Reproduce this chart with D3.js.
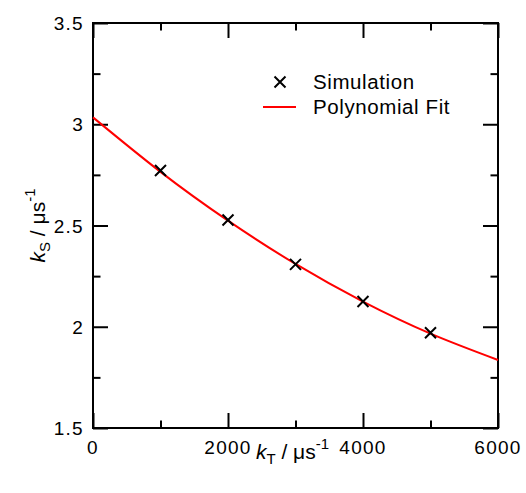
<!DOCTYPE html>
<html>
<head>
<meta charset="utf-8">
<script src="https://cdn.jsdelivr.net/npm/d3@7"></script>
<style>
  body { margin: 0; background: #fff; }
  svg text { font-family: "Liberation Sans", Arial, Helvetica, sans-serif; fill: #000; }
</style>
</head>
<body>
<div id="chart"></div>
<script>
// Simulation points (k_T in us^-1, k_S in us^-1)
const simX = [1000, 2000, 3000, 4000, 5000];
const simY = [2.772, 2.527, 2.308, 2.125, 1.970];

// Polynomial fit curve
const fitX = [0, 1000, 2000, 3000, 4000, 5000, 6000];
const fitY = [3.034, 2.765, 2.524, 2.310, 2.124, 1.966, 1.836];

const xMajor = [0, 2000, 4000, 6000];
const xMinor = [1000, 3000, 5000];
const yMajor = [1.5, 2, 2.5, 3, 3.5];
const yMinor = [1.75, 2.25, 2.75, 3.25];

const legendItems = ['Simulation', 'Polynomial Fit'];

const width = 526, height = 493;
const margin = { top: 23, right: 28, bottom: 65, left: 93 };

const svg = d3.select('#chart')
  .append('svg')
  .attr('width', width)
  .attr('height', height);

const x = d3.scaleLinear().domain([0, 6000]).range([margin.left, width - margin.right]);
const y = d3.scaleLinear().domain([1.5, 3.5]).range([height - margin.bottom, margin.top]);

const majorLen = 15, minorLen = 7.5;

// ticks on all four sides, pointing inward
function ticks(axisFn, scale, vals, len, pos) {
  const g = svg.append('g')
    .attr('transform', pos)
    .call(axisFn(scale).tickValues(vals).tickSizeInner(len).tickSizeOuter(0).tickFormat(''));
  g.select('.domain').remove();
  g.selectAll('.tick line').attr('stroke', '#000').attr('stroke-width', 2);
  return g;
}

const bottomY = y(1.5), topY = y(3.5), leftX = x(0), rightX = x(6000);

ticks(d3.axisBottom, x, xMajor, -majorLen, `translate(0,${bottomY})`);
ticks(d3.axisBottom, x, xMinor, -minorLen, `translate(0,${bottomY})`);
ticks(d3.axisTop, x, xMajor, -majorLen, `translate(0,${topY})`);
ticks(d3.axisTop, x, xMinor, -minorLen, `translate(0,${topY})`);
ticks(d3.axisLeft, y, yMajor, -majorLen, `translate(${leftX},0)`);
ticks(d3.axisLeft, y, yMinor, -minorLen, `translate(${leftX},0)`);
ticks(d3.axisRight, y, yMajor, -majorLen, `translate(${rightX},0)`);
ticks(d3.axisRight, y, yMinor, -minorLen, `translate(${rightX},0)`);

// tick labels
svg.append('g').selectAll('text')
  .data(xMajor).enter().append('text')
  .attr('x', d => x(d))
  .attr('y', bottomY + 26)
  .attr('text-anchor', 'middle')
  .style('font-size', '19px')
  .style('letter-spacing', '1.3px')
  .text(d => d);

svg.append('g').selectAll('text')
  .data(yMajor).enter().append('text')
  .attr('x', leftX - 9)
  .attr('y', d => y(d) + 7)
  .attr('text-anchor', 'end')
  .style('font-size', '19px')
  .style('letter-spacing', '1.3px')
  .text(d => d);

// frame
svg.append('rect')
  .attr('x', leftX).attr('y', topY)
  .attr('width', rightX - leftX).attr('height', bottomY - topY)
  .attr('fill', 'none').attr('stroke', '#000').attr('stroke-width', 2);

// fit curve
const line = d3.line()
  .x((d, i) => x(fitX[i]))
  .y(d => y(d))
  .curve(d3.curveNatural);

svg.append('path')
  .datum(fitY)
  .attr('d', line)
  .attr('fill', 'none')
  .attr('stroke', '#ff0000')
  .attr('stroke-width', 2);

// simulation markers (x shape)
const m = 5.5;
function cross(g, cx, cy) {
  g.append('path')
    .attr('d', `M${cx - m},${cy - m}L${cx + m},${cy + m}M${cx - m},${cy + m}L${cx + m},${cy - m}`)
    .attr('stroke', '#000').attr('stroke-width', 2).attr('fill', 'none');
}
const pts = svg.append('g');
simX.forEach((d, i) => cross(pts, x(d), y(simY[i])));

// legend
const lg = svg.append('g');
cross(lg, 280, 82);
lg.append('line')
  .attr('x1', 263).attr('x2', 296).attr('y1', 107).attr('y2', 107)
  .attr('stroke', '#ff0000').attr('stroke-width', 2);
lg.selectAll('text')
  .data(legendItems).enter().append('text')
  .attr('x', 313)
  .attr('y', (d, i) => 88.5 + i * 25)
  .style('font-size', '20.5px')
  .style('letter-spacing', '0.6px')
  .text(d => d);

// axis titles
const xt = svg.append('text')
  .attr('x', (leftX + rightX) / 2 - 3)
  .attr('y', 459)
  .attr('text-anchor', 'middle')
  .style('font-size', '21px');
xt.append('tspan').style('font-style', 'italic').text('k');
xt.append('tspan').attr('dy', 5).style('font-size', '15px').text('T');
xt.append('tspan').attr('dy', -5).text(' / \u03bcs');
xt.append('tspan').attr('dy', -10).style('font-size', '15px').text('-1');

const yt = svg.append('text')
  .attr('transform', `translate(45,${(topY + bottomY) / 2}) rotate(-90)`)
  .attr('text-anchor', 'middle')
  .style('font-size', '21px');
yt.append('tspan').style('font-style', 'italic').text('k');
yt.append('tspan').attr('dy', 5).style('font-size', '15px').text('S');
yt.append('tspan').attr('dy', -5).text(' / \u03bcs');
yt.append('tspan').attr('dy', -10).style('font-size', '15px').text('-1');
</script>
</body>
</html>
